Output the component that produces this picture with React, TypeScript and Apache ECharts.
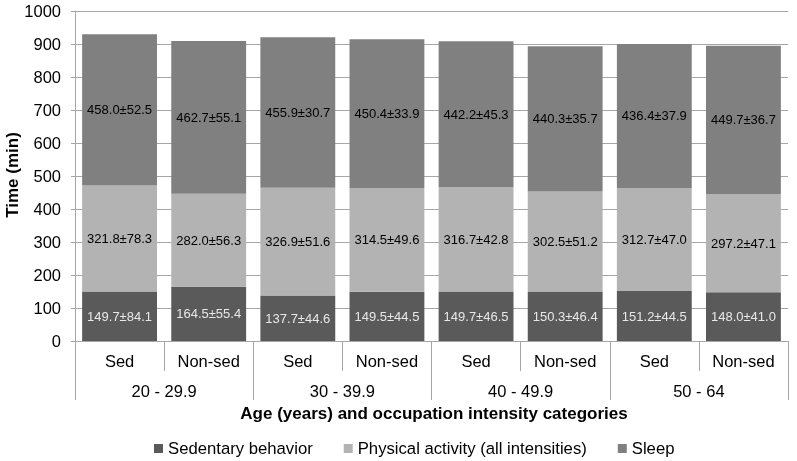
import React, { useEffect, useRef } from "react";
import * as echarts from "echarts";

const subCategories = ["Sed", "Non-sed", "Sed", "Non-sed", "Sed", "Non-sed", "Sed", "Non-sed"];
const groupCategories = ["20 - 29.9", "30 - 39.9", "40 - 49.9", "50 - 64"];
const yTicks = [0, 100, 200, 300, 400, 500, 600, 700, 800, 900, 1000];

const sedentaryMean = [149.7, 164.5, 137.7, 149.5, 149.7, 150.3, 151.2, 148.0];
const sedentarySd = [84.1, 55.4, 44.6, 44.5, 46.5, 46.4, 44.5, 41.0];
const activityMean = [321.8, 282.0, 326.9, 314.5, 316.7, 302.5, 312.7, 297.2];
const activitySd = [78.3, 56.3, 51.6, 49.6, 42.8, 51.2, 47.0, 47.1];
const sleepMean = [458.0, 462.7, 455.9, 450.4, 442.2, 440.3, 436.4, 449.7];
const sleepSd = [52.5, 55.1, 30.7, 33.9, 45.3, 35.7, 37.9, 36.7];

const seriesNames = ["Sedentary behavior", "Physical activity (all intensities)", "Sleep"];
const FONT = "'Liberation Sans', Arial, sans-serif";

export default function App() {
  const ref = useRef<HTMLDivElement>(null);
  useEffect(() => {
    if (!ref.current) return;
    const chart = echarts.init(ref.current, undefined, { renderer: "svg" });
    const mk = (name: string, means: number[], sds: number[], color: string, labelColor: string) => ({
      name,
      type: "bar",
      stack: "total",
      xAxisIndex: 0,
      barCategoryGap: "16%",
      data: means,
      itemStyle: { color },
      label: {
        show: true,
        position: "inside",
        color: labelColor,
        fontSize: 13,
        fontFamily: FONT,
        formatter: (p: any) => means[p.dataIndex].toFixed(1) + "±" + sds[p.dataIndex].toFixed(1),
      },
    });
    chart.setOption({
      animation: false,
      textStyle: { fontFamily: FONT },
      grid: { left: 75, right: 9, top: 11, bottom: 120, containLabel: false },
      xAxis: [
        {
          type: "category",
          data: subCategories,
          position: "bottom",
          axisLine: { show: true, lineStyle: { color: "#a6a6a6", width: 1 } },
          axisTick: { show: true, interval: 0, length: 30, lineStyle: { color: "#a6a6a6" } },
          axisLabel: { interval: 0, fontSize: 16.5, color: "#000", margin: 11, fontFamily: FONT },
        },
        {
          type: "category",
          data: groupCategories,
          position: "bottom",
          axisLine: { show: false },
          axisTick: { show: true, interval: 0, length: 59, lineStyle: { color: "#a6a6a6" } },
          axisLabel: { interval: 0, fontSize: 16.5, color: "#000", margin: 41, fontFamily: FONT },
        },
      ],
      yAxis: {
        type: "value",
        min: yTicks[0],
        max: yTicks[yTicks.length - 1],
        interval: 100,
        axisLine: { show: true, lineStyle: { color: "#a6a6a6" } },
        axisTick: { show: true, length: 4, lineStyle: { color: "#a6a6a6" } },
        axisLabel: {
          fontSize: 16.5,
          color: "#000",
          margin: 14,
          fontFamily: FONT,
          formatter: (v: number) => String(v),
        },
        splitLine: { show: true, lineStyle: { color: "#a6a6a6", width: 1 } },
      },
      legend: {
        data: seriesNames,
        left: 149,
        top: 435,
        icon: "rect",
        itemWidth: 9,
        itemHeight: 9,
        itemGap: 31,
        textStyle: { fontSize: 16.7, color: "#000", fontFamily: FONT },
      },
      graphic: [
        {
          type: "text",
          x: 12,
          y: 175,
          rotation: Math.PI / 2,
          style: {
            text: "Time (min)",
            fontSize: 17,
            fontWeight: "bold",
            fill: "#000",
            fontFamily: FONT,
            align: "center",
            verticalAlign: "middle",
          },
        },
        {
          type: "text",
          x: 434,
          y: 413,
          style: {
            text: "Age (years) and occupation intensity categories",
            fontSize: 17,
            fontWeight: "bold",
            fill: "#000",
            fontFamily: FONT,
            align: "center",
            verticalAlign: "middle",
          },
        },
      ],
      series: [
        mk(seriesNames[0], sedentaryMean, sedentarySd, "#5a5a5a", "#e8e8e8"),
        mk(seriesNames[1], activityMean, activitySd, "#b3b3b3", "#000"),
        mk(seriesNames[2], sleepMean, sleepSd, "#808080", "#000"),
      ],
    });
    return () => chart.dispose();
  }, []);
  return <div ref={ref} style={{ position: "fixed", left: 0, top: 0, width: 797, height: 461 }} />;
}
